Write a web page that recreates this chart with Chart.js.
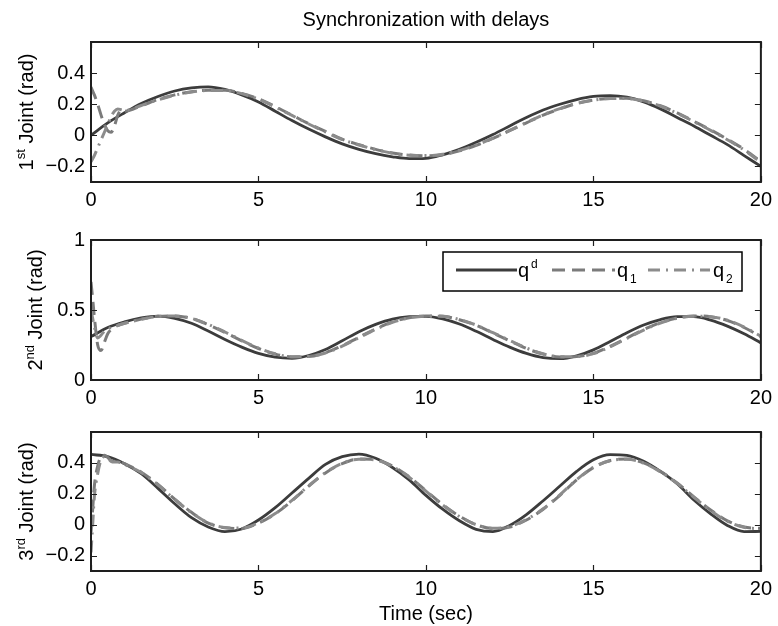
<!DOCTYPE html>
<html><head><meta charset="utf-8">
<script src="https://cdn.jsdelivr.net/npm/chart.js@4.4.0/dist/chart.umd.min.js"></script>
<style>
html,body{margin:0;padding:0;background:#fff;}
#wrap{position:relative;width:778px;height:626px;overflow:hidden;background:#fff;}
canvas{position:absolute;left:0;}
</style></head><body>
<div id="wrap">
<canvas id="c1" width="778" height="216" style="top:0px"></canvas>
<canvas id="c2" width="778" height="206" style="top:210px"></canvas>
<canvas id="c3" width="778" height="218" style="top:408px"></canvas>
</div>
<script>
// ---------- data ----------
const TITLE = 'Synchronization with delays';
const X_TITLE = 'Time (sec)';
const SERIES_NAMES = ['q', 'q', 'q'];
const SERIES_MARKS = ['d', '1', '2'];   // superscript d, subscripts 1, 2
const X_TICKS = [0, 5, 10, 15, 20];
const Y1_TICKS = [-0.2, 0, 0.2, 0.4];
const Y2_TICKS = [0, 0.5, 1];
const Y3_TICKS = [-0.2, 0, 0.2, 0.4];

// time grid of the desired trajectory
const T_D = [0,0.5,1,1.5,2,2.5,3,3.5,4,4.5,5,5.5,6,6.5,7,7.5,8,8.5,9,9.5,10,
  10.5,11,11.5,12,12.5,13,13.5,14,14.5,15,15.5,16,16.5,17,17.5,18,18.5,19,19.5,20];
// time grid of the follower joints (finer at start)
const T_F = [0,0.05,0.1,0.2,0.3,0.4,0.5,0.6,0.7,0.8,0.9,1,1.5,2,2.5,3,3.5,4,4.5,5,5.5,6,6.5,7,7.5,8,8.5,9,9.5,10,
  10.5,11,11.5,12,12.5,13,13.5,14,14.5,15,15.5,16,16.5,17,17.5,18,18.5,19,19.5,20];

// Joint 1
const J1_QD = [0,0.08,0.145,0.205,0.25,0.285,0.305,0.312,0.295,0.26,0.215,0.155,0.095,0.04,-0.01,-0.055,-0.09,-0.118,-0.138,-0.15,-0.148,
  -0.125,-0.09,-0.045,0.005,0.06,0.115,0.163,0.2,0.23,0.25,0.255,0.245,0.215,0.17,0.115,0.06,0.0,-0.06,-0.13,-0.2];
const J1_Q1 = [0.31,0.285,0.26,0.2,0.13,0.07,0.03,0.02,0.06,0.13,0.165,0.155,
  0.19,0.23,0.26,0.28,0.29,0.29,0.27,0.235,0.185,0.13,0.075,0.025,-0.025,-0.06,-0.09,-0.113,-0.127,-0.132,
  -0.125,-0.1,-0.065,-0.02,0.03,0.08,0.13,0.17,0.205,0.227,0.237,0.238,0.222,0.19,0.145,0.09,0.035,-0.025,-0.09,-0.17];
const J1_Q2 = [-0.17,-0.15,-0.13,-0.08,-0.03,0.02,0.07,0.12,0.155,0.17,0.165,0.16,
  0.192,0.228,0.258,0.278,0.288,0.288,0.268,0.232,0.182,0.128,0.073,0.022,-0.027,-0.062,-0.092,-0.115,-0.128,-0.13,
  -0.122,-0.097,-0.062,-0.018,0.032,0.082,0.132,0.172,0.205,0.226,0.236,0.236,0.22,0.188,0.142,0.088,0.032,-0.028,-0.094,-0.175];

// Joint 2
const J2_QD = [0.31,0.375,0.415,0.443,0.456,0.44,0.405,0.35,0.29,0.235,0.19,0.163,0.155,0.175,0.218,0.28,0.345,0.397,0.435,0.452,0.455,
  0.437,0.4,0.348,0.29,0.235,0.19,0.16,0.152,0.172,0.215,0.275,0.338,0.393,0.432,0.452,0.452,0.428,0.385,0.33,0.265];
const J2_Q1 = [0.7,0.58,0.45,0.25,0.21,0.27,0.33,0.36,0.375,0.39,0.398,0.405,
  0.435,0.455,0.458,0.44,0.395,0.34,0.28,0.225,0.185,0.165,0.168,0.195,0.245,0.305,0.365,0.415,0.445,0.458,
  0.455,0.43,0.39,0.335,0.28,0.225,0.185,0.165,0.168,0.19,0.24,0.3,0.36,0.41,0.443,0.458,0.452,0.425,0.375,0.31];
const J2_Q2 = [0.5,0.44,0.38,0.3,0.32,0.35,0.365,0.375,0.385,0.39,0.398,0.405,
  0.433,0.453,0.457,0.44,0.398,0.343,0.283,0.228,0.187,0.166,0.168,0.193,0.242,0.302,0.362,0.412,0.443,0.456,
  0.455,0.432,0.392,0.338,0.283,0.228,0.187,0.166,0.167,0.188,0.237,0.297,0.357,0.407,0.441,0.456,0.452,0.427,0.378,0.313];

// Joint 3
const J3_QD = [0.455,0.44,0.395,0.33,0.235,0.135,0.045,-0.015,-0.045,-0.028,0.03,0.11,0.205,0.3,0.39,0.44,0.457,0.43,0.37,0.29,0.19,
  0.1,0.025,-0.03,-0.045,-0.005,0.065,0.155,0.25,0.345,0.42,0.453,0.448,0.41,0.345,0.265,0.16,0.07,-0.005,-0.045,-0.044];
const J3_Q1 = [-0.05,0.1,0.25,0.38,0.44,0.45,0.435,0.415,0.41,0.41,0.405,0.395,
  0.34,0.26,0.165,0.08,0.01,-0.02,-0.025,0.01,0.07,0.155,0.25,0.335,0.395,0.425,0.42,0.38,0.31,0.22,
  0.13,0.055,0.0,-0.025,-0.015,0.03,0.1,0.19,0.29,0.37,0.415,0.425,0.4,0.345,0.27,0.18,0.095,0.025,-0.015,-0.025];
const J3_Q2 = [-0.18,0.0,0.18,0.33,0.42,0.44,0.43,0.41,0.405,0.405,0.4,0.39,
  0.338,0.258,0.163,0.078,0.012,-0.018,-0.022,0.012,0.072,0.157,0.252,0.337,0.397,0.424,0.418,0.377,0.307,0.217,
  0.127,0.053,0.0,-0.023,-0.012,0.033,0.103,0.193,0.292,0.371,0.414,0.423,0.398,0.342,0.267,0.177,0.092,0.022,-0.017,-0.028];

// ---------- styling ----------
const FONT = "'Liberation Sans', Arial, Helvetica, sans-serif";
Chart.defaults.font.family = FONT;
Chart.defaults.font.size = 20;
Chart.defaults.color = '#000';
const C_D = '#3c3c3c', C_1 = '#7b7b7b', C_2 = '#8c8c8c';
const DASH_1 = [13, 7], DASH_2 = [12, 6, 2, 6];

function pts(t, v) { return t.map((x, i) => ({x: x, y: v[i]})); }
function fmt(v) { return String(Math.round(v * 10) / 10).replace('-', '\u2212'); }

const deco = {
  id: 'deco',
  afterDraw(chart, args, o) {
    const ctx = chart.ctx, a = chart.chartArea;
    const xs = chart.scales.x, ys = chart.scales.y;
    ctx.save();
    // tick marks inside
    ctx.strokeStyle = '#1e1e1e';
    ctx.lineWidth = 1.2;
    ctx.beginPath();
    X_TICKS.forEach(v => {
      const p = Math.round(xs.getPixelForValue(v)) + 0.5;
      ctx.moveTo(p, a.bottom); ctx.lineTo(p, a.bottom - 6);
      ctx.moveTo(p, a.top); ctx.lineTo(p, a.top + 6);
    });
    o.yTicks.forEach(v => {
      const p = Math.round(ys.getPixelForValue(v)) + 0.5;
      ctx.moveTo(a.left, p); ctx.lineTo(a.left + 6, p);
      ctx.moveTo(a.right, p); ctx.lineTo(a.right - 6, p);
    });
    ctx.stroke();
    // box
    ctx.lineWidth = 2;
    ctx.strokeStyle = '#1e1e1e';
    ctx.strokeRect(a.left, a.top, a.right - a.left, a.bottom - a.top);
    // y label with superscript
    const big = '20px ' + FONT, small = '13px ' + FONT;
    ctx.fillStyle = '#000';
    ctx.textBaseline = 'alphabetic';
    ctx.textAlign = 'left';
    const [p1, sup, p2] = o.ylabel;
    ctx.font = big; const w1 = ctx.measureText(p1).width, w3 = ctx.measureText(p2).width;
    ctx.font = small; const w2 = ctx.measureText(sup).width;
    const W = w1 + w2 + w3;
    ctx.translate(o.ylabelX, (a.top + a.bottom) / 2);
    ctx.rotate(-Math.PI / 2);
    let x = -W / 2;
    ctx.font = big; ctx.fillText(p1, x, 0); x += w1;
    ctx.font = small; ctx.fillText(sup, x, -8); x += w2;
    ctx.font = big; ctx.fillText(p2, x, 0);
    ctx.setTransform(1, 0, 0, 1, 0, 0);
    // legend
    if (o.legend) {
      const by = a.top + 12; // legend box top
      ctx.fillStyle = '#fff';
      ctx.fillRect(443, by, 299, 39);
      ctx.lineWidth = 1.5; ctx.strokeStyle = '#000';
      ctx.strokeRect(443, by, 299, 39);
      const ly = by + 18;
      const items = [
        {x0: 456, x1: 517, c: C_D, d: [], w: 3, tx: 518, sup: true},
        {x0: 552, x1: 615, c: C_1, d: DASH_1, w: 3, tx: 617, sup: false},
        {x0: 648, x1: 710, c: C_2, d: DASH_2, w: 3, tx: 713, sup: false}
      ];
      items.forEach((it, i) => {
        ctx.beginPath(); ctx.setLineDash(it.d); ctx.strokeStyle = it.c; ctx.lineWidth = it.w;
        ctx.moveTo(it.x0, ly); ctx.lineTo(it.x1, ly); ctx.stroke();
        ctx.setLineDash([]);
        ctx.fillStyle = '#000';
        ctx.font = big; ctx.fillText(SERIES_NAMES[i], it.tx, by + 25);
        const qw = ctx.measureText(SERIES_NAMES[i]).width;
        ctx.font = '12px ' + FONT;
        ctx.fillText(SERIES_MARKS[i], it.tx + qw + 2, it.sup ? by + 16 : by + 31);
      });
    }
    ctx.restore();
  }
};

function makeChart(id, qd, q1, q2, yMin, yMax, yTicks, padTop, xH, extra) {
  const ds = (label, t, v, c, dash, w, order) => ({
    label: label, data: pts(t, v), borderColor: c, borderDash: dash, borderWidth: w,
    pointRadius: 0, fill: false, cubicInterpolationMode: 'monotone', order: order
  });
  return new Chart(document.getElementById(id), {
    type: 'line',
    data: {datasets: [
      ds('qd', T_D, qd, C_D, [], 2.8, 3),
      ds('q1', T_F, q1, C_1, DASH_1, 3, 2),
      ds('q2', T_F, q2, C_2, DASH_2, 3, 1)
    ]},
    options: {
      responsive: false, animation: false, devicePixelRatio: 1,
      layout: {padding: {top: padTop, right: 16, left: 0, bottom: 0}},
      scales: {
        x: {type: 'linear', min: 0, max: 20,
          grid: {display: false, drawTicks: false}, border: {display: false},
          afterBuildTicks: s => { s.ticks = X_TICKS.map(v => ({value: v})); },
          afterFit: s => { s.height = xH; },
          ticks: {autoSkip: false, maxRotation: 0, padding: 6, color: '#000', callback: v => fmt(v)},
          title: extra.xTitle ? {display: true, text: X_TITLE, color: '#000', font: {size: 20}, padding: {top: 0, bottom: 0}} : {display: false}
        },
        y: {type: 'linear', min: yMin, max: yMax,
          grid: {display: false, drawTicks: false}, border: {display: false},
          afterBuildTicks: s => { s.ticks = yTicks.map(v => ({value: v})); },
          afterFit: s => { s.width = 91; },
          ticks: {padding: 6, color: '#000', callback: v => fmt(v)}
        }
      },
      plugins: {
        legend: {display: false},
        tooltip: {enabled: false},
        title: extra.title ? {display: true, text: TITLE, fullSize: false, color: '#000',
          font: {size: 20, weight: 'normal'}, padding: {top: 8, bottom: 10}} : {display: false},
        deco: {yTicks: yTicks, ylabel: extra.ylabel, ylabelX: extra.ylabelX, legend: !!extra.legend}
      }
    },
    plugins: [deco]
  });
}

makeChart('c1', J1_QD, J1_Q1, J1_Q2, -0.3, 0.6, Y1_TICKS, 0, 34,
  {title: true, ylabel: ['1', 'st', ' Joint (rad)'], ylabelX: 33});
makeChart('c2', J2_QD, J2_Q1, J2_Q2, 0, 1, Y2_TICKS, 30, 36,
  {legend: true, ylabel: ['2', 'nd', ' Joint (rad)'], ylabelX: 42});
makeChart('c3', J3_QD, J3_Q1, J3_Q2, -0.3, 0.6, Y3_TICKS, 24, 55,
  {xTitle: true, ylabel: ['3', 'rd', ' Joint (rad)'], ylabelX: 33});
</script>
</body></html>
